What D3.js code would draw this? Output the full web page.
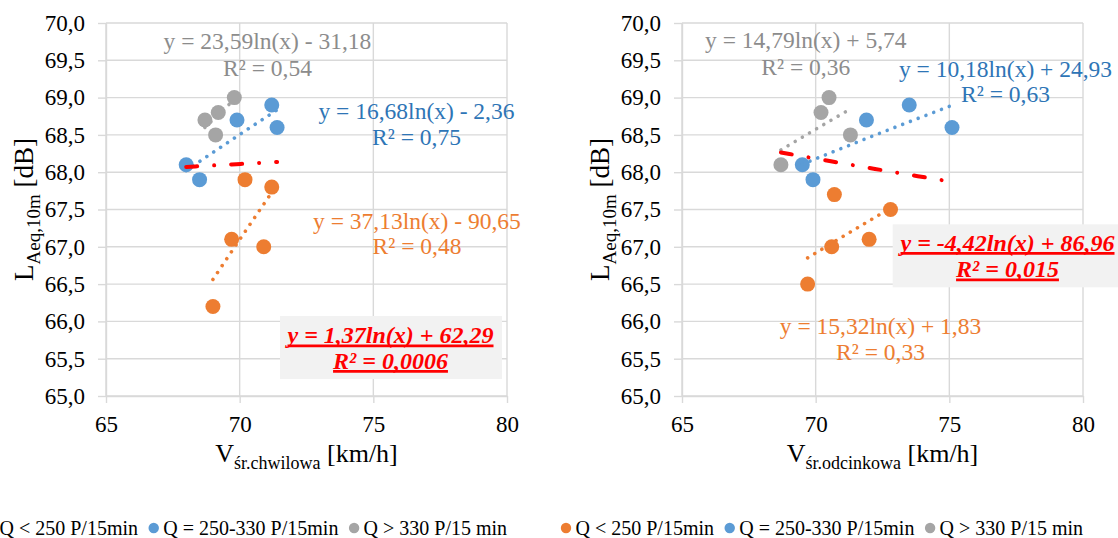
<!DOCTYPE html>
<html lang="pl">
<head>
<meta charset="utf-8">
<title>LAeq,10m vs V</title>
<script src="https://cdn.jsdelivr.net/npm/d3@7/dist/d3.min.js"></script>
<style>
body { margin: 0; background: #fff; }
svg text { font-family: "Liberation Serif", "Times New Roman", serif; }
</style>
</head>
<body>
<div id="vis"></div>
<script>

/* Data */
/* ==== */

var seriesNames = ['Q < 250 P/15min', 'Q = 250-330 P/15min', 'Q > 330 P/15 min'];

var xTicks = [65, 70, 75, 80];
var yTicks = [65, 65.5, 66, 66.5, 67, 67.5, 68, 68.5, 69, 69.5, 70];

// chart 1 - V śr.chwilowa
var chwLowX  = [70.2, 71.2, 69.7, 70.9, 69.0];
var chwLowY  = [67.9, 67.8, 67.1, 67.0, 66.2];
var chwMidX  = [68.0, 68.5, 69.9, 71.2, 71.4];
var chwMidY  = [68.1, 67.9, 68.7, 68.9, 68.6];
var chwHighX = [68.7, 69.2, 69.8, 69.1];
var chwHighY = [68.7, 68.8, 69.0, 68.5];
var chwTrendA = [37.13, 16.68, 23.59, 1.37];   // low, mid, high, all
var chwTrendB = [-90.65, -2.36, -31.18, 62.29];
var chwR2     = ['0,48', '0,75', '0,54', '0,0006'];

// chart 2 - V śr.odcinkowa
var odcLowX  = [70.7, 72.8, 72.0, 70.6, 69.7];
var odcLowY  = [67.7, 67.5, 67.1, 67.0, 66.5];
var odcMidX  = [69.5, 69.9, 71.9, 73.5, 75.1];
var odcMidY  = [68.1, 67.9, 68.7, 68.9, 68.6];
var odcHighX = [70.5, 70.2, 71.3, 68.7];
var odcHighY = [69.0, 68.8, 68.5, 68.1];
var odcTrendA = [15.32, 10.18, 14.79, -4.42];
var odcTrendB = [1.83, 24.93, 5.74, 86.96];
var odcR2     = ['0,33', '0,63', '0,36', '0,015'];


/* Layout and styles */
/* ================= */

var width = 1118, height = 538;
var plot = { left: 106, right: 507, top: 23, bottom: 396 };

var markerColors = ['#ed7d31', '#5b9bd5', '#a5a5a5'];
var labelColors  = ['#ed7d31', '#2e75b6', '#8c8c8c'];
var gridColor = '#d9d9d9';

var charts = [
	{
		dx: 0,
		sub: 'śr.chwilowa',
		xs: [chwLowX, chwMidX, chwHighX], ys: [chwLowY, chwMidY, chwHighY],
		a: chwTrendA, b: chwTrendB, r2: chwR2,
		// [centre x, baseline eq, baseline R²] for low, mid, high, all
		labels: [[417, 228.5, 254], [416.5, 118.5, 145], [267.5, 48.5, 76], [390.5, 343, 368.5]],
		box: [280, 316, 222, 63]
	},
	{
		dx: 576,
		sub: 'śr.odcinkowa',
		xs: [odcLowX, odcMidX, odcHighX], ys: [odcLowY, odcMidY, odcHighY],
		a: odcTrendA, b: odcTrendB, r2: odcR2,
		labels: [[304.5, 333.5, 360], [429.5, 77, 102], [229.8, 48.3, 75], [431.5, 250.5, 277]],
		box: [316.7, 224.3, 232, 63]
	}
];

var svg = d3.select('#vis')
	.append('svg')
		.attr('width', width)
		.attr('height', height);


/* Functions */
/* ========= */

function comma(f) {
	return function(v) { return d3.format(f)(v).replace('.', ',').replace('\u2212', '-'); };
}

function equation(a, b) {
	return 'y = ' + comma('.2f')(a) + 'ln(x) ' + (b < 0 ? '- ' : '+ ') + comma('.2f')(Math.abs(b));
}

function trendPoints(xs, a, b) {
	var lo = d3.min(xs), hi = d3.max(xs);
	return d3.range(0, 21).map(function(k) {
		var v = lo + (hi - lo) * k / 20;
		return [v, a * Math.log(v) + b];
	});
}

function drawChart(cfg) {

	var g = svg.append('g').attr('transform', 'translate(' + cfg.dx + ',0)');

	var x = d3.scaleLinear().domain([65, 80]).range([plot.left, plot.right]);
	var y = d3.scaleLinear().domain([65, 70]).range([plot.bottom, plot.top]);

	// gridlines
	g.append('g').selectAll('line')
		.data(yTicks)
		.enter().append('line')
			.attr('x1', plot.left).attr('x2', plot.right)
			.attr('y1', function(d) { return y(d); })
			.attr('y2', function(d) { return y(d); })
			.attr('stroke', gridColor).attr('stroke-width', 1.4);

	g.append('g').selectAll('line')
		.data(xTicks)
		.enter().append('line')
			.attr('x1', function(d) { return x(d); })
			.attr('x2', function(d) { return x(d); })
			.attr('y1', plot.top).attr('y2', plot.bottom)
			.attr('stroke', gridColor).attr('stroke-width', 1.4);

	// axes
	var yAxis = g.append('g')
		.attr('transform', 'translate(' + plot.left + ',0)')
		.call(d3.axisLeft(y).tickValues(yTicks).tickFormat(comma('.1f'))
			.tickSize(8).tickSizeOuter(0).tickPadding(13));

	var xAxis = g.append('g')
		.attr('transform', 'translate(0,' + plot.bottom + ')')
		.call(d3.axisBottom(x).tickValues(xTicks).tickFormat(d3.format('d'))
			.tickSize(7).tickSizeOuter(0).tickPadding(13));

	[yAxis, xAxis].forEach(function(ax) {
		ax.attr('font-family', null).attr('font-size', null);
		ax.select('.domain').attr('stroke', gridColor).attr('stroke-width', 1.4);
		ax.selectAll('.tick line').attr('stroke', gridColor).attr('stroke-width', 1.4);
		ax.selectAll('.tick text').attr('fill', '#000').style('font-size', '23px');
	});

	// axis titles
	var xt = g.append('text')
		.attr('x', (plot.left + plot.right) / 2)
		.attr('y', 461.5)
		.attr('text-anchor', 'middle')
		.style('font-size', '26px');
	xt.append('tspan').text('V');
	xt.append('tspan').attr('dy', 7).style('font-size', '18px').text(cfg.sub);
	xt.append('tspan').attr('dy', -7).text(' [km/h]');

	var yt = g.append('text')
		.attr('transform', 'translate(33,' + (plot.top + plot.bottom) / 2 + ') rotate(-90)')
		.attr('text-anchor', 'middle')
		.style('font-size', '27px');
	yt.append('tspan').text('L');
	yt.append('tspan').attr('dy', 6.5).style('font-size', '19px').text('Aeq,10m');
	yt.append('tspan').attr('dy', -6.5).text(' [dB]');

	// points
	cfg.xs.forEach(function(xs, i) {
		g.append('g').selectAll('circle')
			.data(xs)
			.enter().append('circle')
				.attr('cx', function(d) { return x(d); })
				.attr('cy', function(d, j) { return y(cfg.ys[i][j]); })
				.attr('r', 7.5)
				.attr('fill', markerColors[i]);
	});

	// trendlines
	var line = d3.line()
		.x(function(d) { return x(d[0]); })
		.y(function(d) { return y(d[1]); });

	cfg.xs.forEach(function(xs, i) {
		g.append('path')
			.datum(trendPoints(xs, cfg.a[i], cfg.b[i]))
			.attr('d', line)
			.attr('fill', 'none')
			.attr('stroke', markerColors[i])
			.attr('stroke-width', 3.6)
			.attr('stroke-linecap', 'round')
			.attr('stroke-dasharray', '0.01 8.3');
	});

	var allX = d3.merge(cfg.xs);
	g.append('path')
		.datum(trendPoints(allX, cfg.a[3], cfg.b[3]))
		.attr('d', line)
		.attr('fill', 'none')
		.attr('stroke', '#ff0000')
		.attr('stroke-width', 4)
		.attr('stroke-linecap', 'round')
		.attr('stroke-dasharray', '11 17 0.01 17');

	// equation labels
	[0, 1, 2].forEach(function(i) {
		var p = cfg.labels[i];
		var t = g.append('g')
			.attr('fill', labelColors[i])
			.attr('text-anchor', 'middle')
			.style('font-size', '23.5px');
		t.append('text').attr('x', p[0]).attr('y', p[1]).text(equation(cfg.a[i], cfg.b[i]));
		t.append('text').attr('x', p[0]).attr('y', p[2]).text('R² = ' + cfg.r2[i]);
	});

	// all-data label in grey box
	g.append('rect')
		.attr('x', cfg.box[0]).attr('y', cfg.box[1])
		.attr('width', cfg.box[2]).attr('height', cfg.box[3])
		.attr('fill', '#f2f2f2');

	var p = cfg.labels[3];
	[[p[1], equation(cfg.a[3], cfg.b[3])], [p[2], 'R² = ' + cfg.r2[3]]].forEach(function(row) {
		var t = g.append('text')
			.attr('x', p[0]).attr('y', row[0])
			.attr('text-anchor', 'middle')
			.attr('fill', '#ff0000')
			.style('font-size', '24px')
			.style('font-weight', 'bold')
			.style('font-style', 'italic')
			.text(row[1]);
		var len = t.node().getComputedTextLength();
		g.append('line')
			.attr('x1', p[0] - len / 2).attr('x2', p[0] + len / 2)
			.attr('y1', row[0] + 2.8).attr('y2', row[0] + 2.8)
			.attr('stroke', '#ff0000').attr('stroke-width', 2.8);
	});

	// legend
	var lg = g.append('g').attr('transform', 'translate(0,528)');
	var cx = -10;
	seriesNames.forEach(function(name, i) {
		lg.append('circle').attr('cx', cx).attr('cy', 0).attr('r', 5.2).attr('fill', markerColors[i]);
		var t = lg.append('text')
			.attr('x', cx + 9.5).attr('y', 7)
			.attr('fill', '#000')
			.style('font-size', '20px')
			.text(name);
		cx += 9.5 + t.node().getComputedTextLength() + 15.7;
	});

} // drawChart()


/* Build */
/* ===== */

charts.forEach(drawChart);

</script>
</body>
</html>
